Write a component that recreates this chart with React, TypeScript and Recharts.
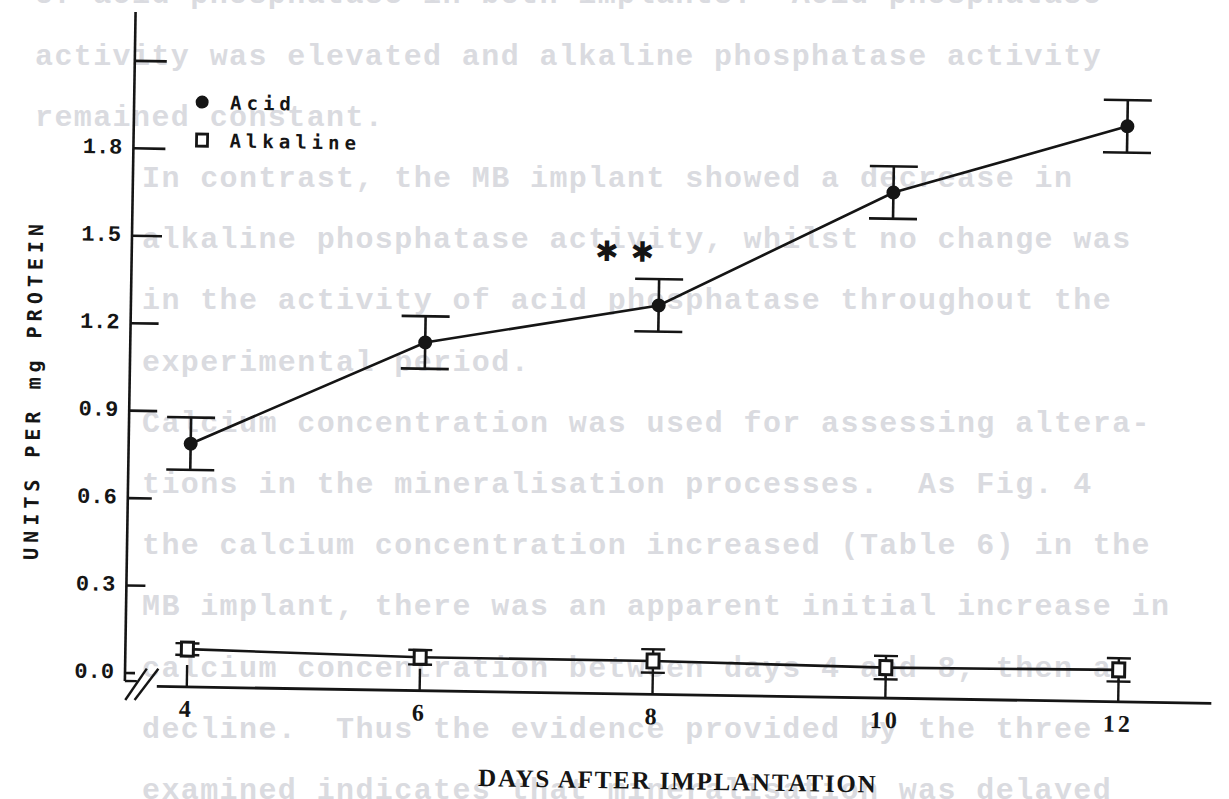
import React from 'react';
import { LineChart, Line, XAxis, YAxis, ErrorBar, ReferenceLine, Legend, Label } from 'recharts';

// days after implantation
const days = [4, 6, 8, 10, 12];
// acid phosphatase, units per mg protein (mean and SEM)
const acidMean = [0.79, 1.15, 1.29, 1.69, 1.93];
const acidSem = [0.09, 0.09, 0.09, 0.09, 0.09];
// alkaline phosphatase, units per mg protein (mean and SEM)
const alkalineMean = [0.085, 0.07, 0.07, 0.06, 0.065];
const alkalineSem = [0.02, 0.025, 0.04, 0.04, 0.04];
// ** on the acid series
const acidSignificant = [false, false, true, false, false];

const seriesNames = ['Acid', 'Alkaline'];
const yTicks = [0, 0.3, 0.6, 0.9, 1.2, 1.5, 1.8, 2.1];
const yTickLabels = ['0.0', '0.3', '0.6', '0.9', '1.2', '1.5', '1.8', ''];
const xTicks = [4, 6, 8, 10, 12];
const xTickLabels = ['4', '6', '8', '10', '12'];
const xTitle = 'DAYS AFTER IMPLANTATION';
const yTitle = 'UNITS PER mg PROTEIN';

// text from the facing page that shows through the paper
const ghostTop = [
  'of acid phosphatase in both implants.  Acid phosphatase',
  'activity was elevated and alkaline phosphatase activity',
  'remained constant.',
];
const ghostBody = [
  'In contrast, the MB implant showed a decrease in',
  'alkaline phosphatase activity, whilst no change was',
  'in the activity of acid phosphatase throughout the',
  'experimental period.',
  'Calcium concentration was used for assessing altera-',
  'tions in the mineralisation processes.  As Fig. 4',
  'the calcium concentration increased (Table 6) in the',
  'MB implant, there was an apparent initial increase in',
  'calcium concentration between days 4 and 8, then a',
  'decline.  Thus the evidence provided by the three',
  'examined indicates that mineralisation was delayed',
];

const data = days.map((day, i) => ({
  day,
  acid: acidMean[i],
  acidSem: acidSem[i],
  alkaline: alkalineMean[i],
  alkalineSem: alkalineSem[i],
  significant: acidSignificant[i],
}));

const INK = '#151515';
const X_MIN = 3.4675;
const X_MAX = 12.923;
const Y_MIN = -0.0446;
const Y_MAX = 2.2676;
// inward tick lengths on the y axis, bottom to top
const Y_TICK_LEN = [10, 19, 24, 28, 28, 30, 32, 32];

const YTick = (props: any) => {
  const { x, y, index } = props;
  return (
    <g>
      <line x1={x} y1={y} x2={x + Y_TICK_LEN[index]} y2={y} stroke={INK} strokeWidth={2.6} />
      <text
        x={x - 11}
        y={y}
        textAnchor="end"
        dominantBaseline="central"
        fontFamily="'Liberation Mono', monospace"
        fontWeight="bold"
        fontSize={22}
        fill={INK}
      >
        {yTickLabels[index]}
      </text>
    </g>
  );
};

const XTick = (props: any) => {
  const { x, y, index } = props;
  return (
    <g>
      <line x1={x} y1={y} x2={x} y2={y - 22} stroke={INK} strokeWidth={2.4} />
      <text
        x={x}
        y={y + 22}
        textAnchor="middle"
        dominantBaseline="central"
        fontFamily="'Liberation Serif', serif"
        fontWeight="bold"
        fontSize={24}
        letterSpacing={3}
        fill={INK}
      >
        {xTickLabels[index]}
      </text>
    </g>
  );
};

const AcidDot = (props: any) => {
  const { cx, cy, index, payload } = props;
  return (
    <g key={`acid-${index}`}>
      <circle cx={cx} cy={cy} r={7} fill={INK} />
      {payload.significant && (
        <text
          x={cx - 29}
          y={cy - 53}
          textAnchor="middle"
          dominantBaseline="central"
          fontFamily="'DejaVu Sans', sans-serif"
          fontSize={28}
          letterSpacing={12}
          fill={INK}
        >
          ✱✱
        </text>
      )}
    </g>
  );
};

const AlkalineDot = (props: any) => {
  const { cx, cy, index } = props;
  return (
    <rect
      key={`alk-${index}`}
      x={cx - 6}
      y={cy - 7}
      width={12}
      height={14}
      fill="#fff"
      stroke={INK}
      strokeWidth={3}
    />
  );
};

const LegendBox = (props: any) => {
  const { payload = [] } = props;
  return (
    <div>
      {payload.map((entry: any) => (
        <div key={entry.value} style={{ display: 'flex', alignItems: 'center', height: 38 }}>
          <svg width={20} height={20} style={{ marginRight: 18 }}>
            {entry.dataKey === 'acid' ? (
              <circle cx={10} cy={10} r={6.5} fill={INK} />
            ) : (
              <rect x={5} y={4} width={11} height={12} fill="#fff" stroke={INK} strokeWidth={2.8} />
            )}
          </svg>
          <span
            style={{
              fontFamily: "'DejaVu Sans Mono', monospace",
              fontWeight: 'bold',
              fontSize: 19,
              letterSpacing: 5,
              color: INK,
            }}
          >
            {entry.value}
          </span>
        </div>
      ))}
    </div>
  );
};

const ghostStyle: React.CSSProperties = {
  position: 'absolute',
  height: 61.2,
  lineHeight: '61.2px',
  whiteSpace: 'pre',
  fontFamily: "'Liberation Mono', monospace",
  fontWeight: 'bold',
  fontSize: 30,
  letterSpacing: 1.4,
  color: '#dadbe0',
};

const GhostText = () => (
  <div style={{ position: 'absolute', left: 0, top: 0, width: 1229, height: 799 }}>
    {ghostTop.map((line, i) => (
      <div key={`t${i}`} style={{ ...ghostStyle, left: 35, top: -4 + i * 61.2 - 30.6 }}>
        {line}
      </div>
    ))}
    {ghostBody.map((line, i) => (
      <div key={`b${i}`} style={{ ...ghostStyle, left: 142, top: -4 + (i + 3) * 61.2 - 30.6 }}>
        {line}
      </div>
    ))}
  </div>
);

export default function App() {
  return (
    <div style={{ position: 'relative', width: 1229, height: 799, background: '#fff', overflow: 'hidden' }}>
      <style>{'body{margin:0;background:#fff}'}</style>
      <GhostText />
      <div
        style={{
          position: 'absolute',
          left: 0,
          top: 0,
          transform: 'rotate(0.917deg)',
          transformOrigin: '128px 673px',
        }}
      >
        <LineChart width={1229} height={799} data={data} margin={{ top: 12, right: 3, bottom: 73, left: 0 }}>
          <XAxis
            dataKey="day"
            type="number"
            domain={[X_MIN, X_MAX]}
            ticks={xTicks}
            interval={0}
            allowDataOverflow
            axisLine={false}
            tickLine={false}
            tickSize={0}
            tickMargin={0}
            height={40}
            tick={<XTick />}
          >
            <Label
              content={(p: any) => {
                const vb = p.viewBox || {};
                return (
                  <text
                    x={vb.x + vb.width / 2 + 4}
                    y={vb.y + 86}
                    textAnchor="middle"
                    dominantBaseline="central"
                    fontFamily="'Liberation Serif', serif"
                    fontWeight="bold"
                    fontSize={25}
                    letterSpacing={1.8}
                    fill={INK}
                  >
                    {xTitle}
                  </text>
                );
              }}
            />
          </XAxis>
          <YAxis
            type="number"
            domain={[Y_MIN, Y_MAX]}
            ticks={yTicks}
            interval={0}
            allowDataOverflow
            axisLine={false}
            tickLine={false}
            tickSize={0}
            tickMargin={0}
            width={125}
            tick={<YTick />}
          >
            <Label
              content={(p: any) => {
                const vb = p.viewBox || {};
                const cx = 29;
                const cy = vb.y + vb.height / 2 + 42;
                return (
                  <text
                    x={cx}
                    y={cy}
                    transform={`rotate(-90 ${cx} ${cy})`}
                    textAnchor="middle"
                    dominantBaseline="central"
                    fontFamily="'DejaVu Sans Mono', monospace"
                    fontWeight="bold"
                    fontSize={20}
                    letterSpacing={5}
                    fill={INK}
                  >
                    {yTitle}
                  </text>
                );
              }}
            />
          </YAxis>

          {/* broken axes: y axis with its foot, two slashes, then the x axis */}
          <ReferenceLine
            segment={[{ x: X_MIN, y: -0.0274 }, { x: X_MIN, y: Y_MAX }]}
            stroke={INK}
            strokeWidth={2.6}
            ifOverflow="visible"
          />
          <ReferenceLine
            segment={[{ x: X_MIN, y: -0.0274 }, { x: 3.5706, y: -0.0274 }]}
            stroke={INK}
            strokeWidth={2.4}
            ifOverflow="visible"
          />
          <ReferenceLine
            segment={[{ x: 3.4735, y: -0.0926 }, { x: 3.6539, y: 0.0161 }]}
            stroke={INK}
            strokeWidth={2.4}
            ifOverflow="visible"
          />
          <ReferenceLine
            segment={[{ x: 3.5534, y: -0.0926 }, { x: 3.7535, y: 0.0161 }]}
            stroke={INK}
            strokeWidth={2.4}
            ifOverflow="visible"
          />
          <ReferenceLine
            segment={[{ x: 3.7424, y: Y_MIN }, { x: 12.8, y: Y_MIN }]}
            stroke={INK}
            strokeWidth={2.8}
            ifOverflow="visible"
          />

          <Legend
            layout="vertical"
            align="center"
            verticalAlign="middle"
            wrapperStyle={{ left: 183, top: 82, width: 200 }}
            content={<LegendBox />}
          />

          <Line
            dataKey="alkaline"
            name={seriesNames[1]}
            stroke={INK}
            strokeWidth={2.6}
            dot={<AlkalineDot />}
            activeDot={false}
            isAnimationActive={false}
          >
            <ErrorBar dataKey="alkalineSem" width={12} stroke={INK} strokeWidth={2.4} />
          </Line>
          <Line
            dataKey="acid"
            name={seriesNames[0]}
            stroke={INK}
            strokeWidth={2.6}
            dot={<AcidDot />}
            activeDot={false}
            isAnimationActive={false}
          >
            <ErrorBar dataKey="acidSem" width={24} stroke={INK} strokeWidth={2.6} />
          </Line>
        </LineChart>
      </div>
    </div>
  );
}
